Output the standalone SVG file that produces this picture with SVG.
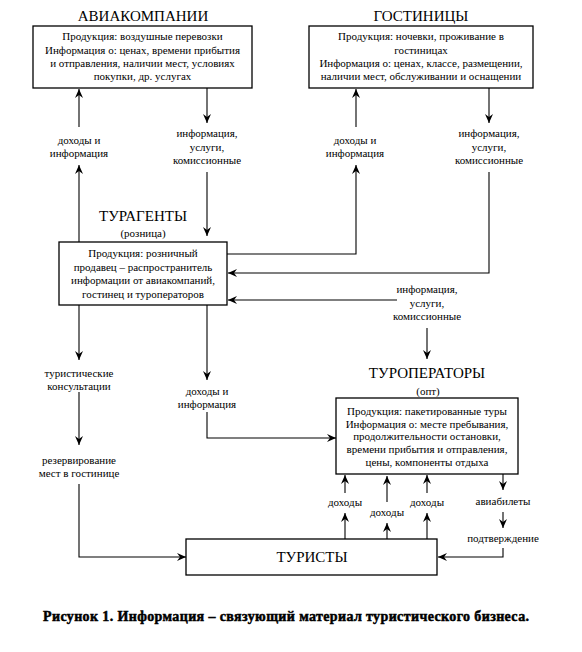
<svg xmlns="http://www.w3.org/2000/svg" width="582" height="652" viewBox="0 0 582 652">
<defs>
<marker id="ar" viewBox="-10 -5 11 10" refX="0" refY="0" markerWidth="11" markerHeight="10" markerUnits="userSpaceOnUse" orient="auto">
<path d="M0,0 L-9,-4 L-6,0 L-9,4 Z" fill="#000"/>
</marker>
</defs>
<style>
text{font-family:'Liberation Serif','DejaVu Serif',serif;fill:#000;text-anchor:middle}
.t{font-size:15px}
.s{font-size:11px}
.b{fill:#fff;stroke:#000;stroke-width:1.3}
.c line,.c polyline{fill:none;stroke:#000;stroke-width:1.1;marker-end:url(#ar)}
.cap{font-size:14px;font-weight:bold;stroke:#000;stroke-width:0.5}
</style>
<rect width="582" height="652" fill="#fff"/>

<g id="airlines">
<text class="t" x="143" y="21">АВИАКОМПАНИИ</text>
<rect class="b" x="33" y="26" width="219" height="62"/>
<text class="s" x="142.5" y="40">Продукция: воздушные перевозки</text>
<text class="s" x="142.5" y="54">Информация о: ценах, времени прибытия</text>
<text class="s" x="142.5" y="67">и отправления, наличии мест, условиях</text>
<text class="s" x="142.5" y="80">покупки, др. услугах</text>
</g>

<g id="hotels">
<text class="t" x="421" y="21">ГОСТИНИЦЫ</text>
<rect class="b" x="309" y="26" width="224" height="62"/>
<text class="s" x="421" y="40">Продукция: ночевки, проживание в</text>
<text class="s" x="421" y="54">гостиницах</text>
<text class="s" x="421" y="67">Информация о: ценах, классе, размещении,</text>
<text class="s" x="421" y="80">наличии мест, обслуживании и оснащении</text>
</g>

<g id="agents">
<text class="t" x="143" y="221">ТУРАГЕНТЫ</text>
<text class="s" x="143" y="237">(розница)</text>
<rect class="b" x="59" y="242" width="168" height="63"/>
<text class="s" x="143" y="257">Продукция: розничный</text>
<text class="s" x="143" y="271">продавец – распространитель</text>
<text class="s" x="143" y="284">информации от авиакомпаний,</text>
<text class="s" x="143" y="298">гостинец и туроператоров</text>
</g>

<g id="operators">
<text class="t" x="427" y="378">ТУРОПЕРАТОРЫ</text>
<text class="s" x="428" y="395">(опт)</text>
<rect class="b" x="336" y="398" width="182" height="76"/>
<text class="s" x="427" y="415">Продукция: пакетированные туры</text>
<text class="s" x="427" y="428">Информация о: месте пребывания,</text>
<text class="s" x="427" y="440">продолжительности остановки,</text>
<text class="s" x="427" y="453">времени прибытия и отправления,</text>
<text class="s" x="427" y="466">цены, компоненты отдыха</text>
</g>

<g id="tourists">
<rect class="b" x="186" y="539" width="251" height="36"/>
<text class="t" x="312" y="562">ТУРИСТЫ</text>
</g>

<g id="labels">
<text class="s" x="79" y="144">доходы и</text>
<text class="s" x="79" y="157">информация</text>
<text class="s" x="207" y="137">информация,</text>
<text class="s" x="207" y="151">услуги,</text>
<text class="s" x="207" y="164">комиссионные</text>
<text class="s" x="355" y="144">доходы и</text>
<text class="s" x="355" y="157">информация</text>
<text class="s" x="489" y="137">информация,</text>
<text class="s" x="489" y="151">услуги,</text>
<text class="s" x="489" y="164">комиссионные</text>
<text class="s" x="427" y="293">информация,</text>
<text class="s" x="427" y="307">услуги,</text>
<text class="s" x="427" y="320">комиссионные</text>
<text class="s" x="79" y="377">туристические</text>
<text class="s" x="79" y="390">консультации</text>
<text class="s" x="79" y="464">резервирование</text>
<text class="s" x="79" y="477">мест в гостинице</text>
<text class="s" x="207" y="395">доходы и</text>
<text class="s" x="207" y="408">информация</text>
<text class="s" x="345" y="506">доходы</text>
<text class="s" x="387" y="516">доходы</text>
<text class="s" x="427" y="506">доходы</text>
<text class="s" x="503" y="505">авиабилеты</text>
<text class="s" x="503" y="542">подтверждение</text>
</g>

<g id="connectors" class="c">
<line x1="79" y1="127" x2="79" y2="89"/>
<line x1="79" y1="242" x2="79" y2="165"/>
<line x1="207" y1="88" x2="207" y2="123"/>
<line x1="207" y1="172" x2="207" y2="236"/>
<line x1="356" y1="127" x2="356" y2="89"/>
<polyline points="227,254 356,254 356,165"/>
<line x1="489" y1="88" x2="489" y2="123"/>
<polyline points="489,172 489,273 228,273"/>
<line x1="397" y1="300" x2="228" y2="300"/>
<line x1="427" y1="328" x2="427" y2="359"/>
<line x1="79" y1="305" x2="79" y2="360"/>
<line x1="79" y1="392" x2="79" y2="445"/>
<polyline points="79,484 79,557 186,557"/>
<line x1="207" y1="305" x2="207" y2="380"/>
<polyline points="207,412 207,438 336,438"/>
<line x1="345" y1="539" x2="345" y2="513"/>
<line x1="345" y1="493" x2="345" y2="475"/>
<line x1="387" y1="539" x2="387" y2="523"/>
<line x1="387" y1="502" x2="387" y2="476"/>
<line x1="427" y1="539" x2="427" y2="513"/>
<line x1="427" y1="493" x2="427" y2="475"/>
<line x1="503" y1="474" x2="503" y2="490"/>
<line x1="503" y1="512" x2="503" y2="528"/>
<polyline points="503,548 503,557 438,557"/>
</g>

<text class="cap" x="286" y="621" textLength="486" lengthAdjust="spacing">Рисунок 1. Информация – связующий материал туристического бизнеса.</text>
</svg>
